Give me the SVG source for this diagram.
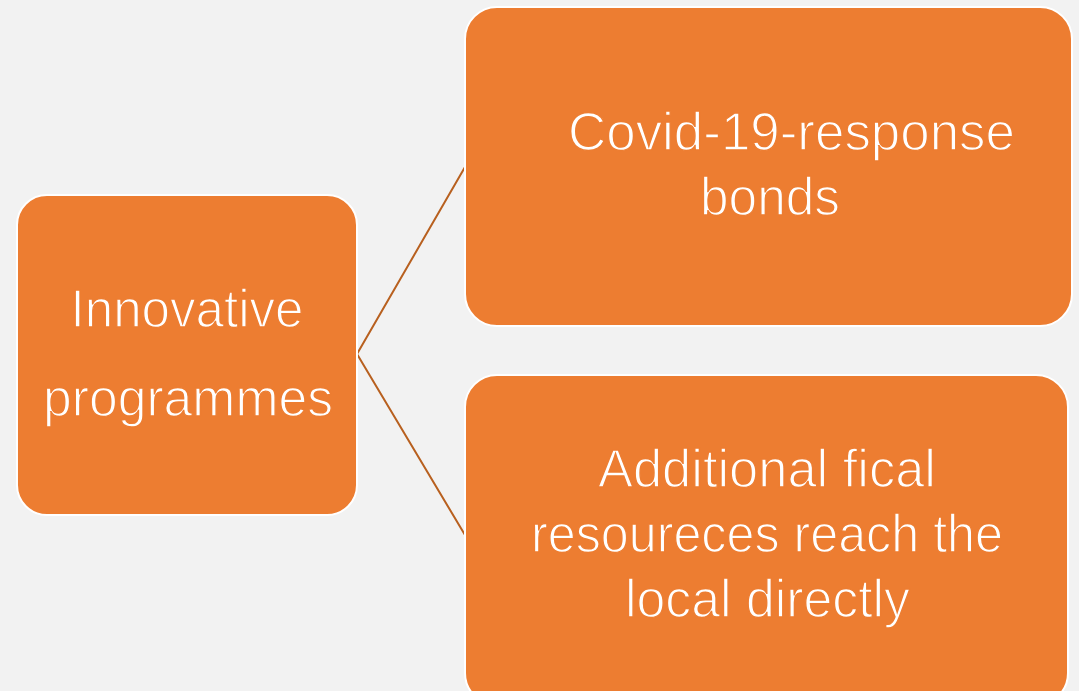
<svg xmlns="http://www.w3.org/2000/svg" width="1079" height="691" viewBox="0 0 1079 691">
<style>
.box{fill:#ED7D31;stroke:#FFFFFF;stroke-width:2}
.lbl{font-family:"Liberation Sans",Arial,sans-serif;font-size:53px;fill:#FFFFFF;text-anchor:middle;stroke:#ED7D31;stroke-width:1.4;paint-order:fill stroke}
.conn{fill:none;stroke:#B8601F;stroke-width:2}
</style>
<rect x="0" y="0" width="1079" height="691" fill="#F2F2F2"/>
<g id="connectors">
<path class="conn" d="M465,167 L357,354 L465,535"/>
</g>
<g id="node-innovative">
<rect class="box" x="17" y="195" width="340" height="320" rx="30" ry="30"/>
<text class="lbl" x="187" y="327" textLength="233" lengthAdjust="spacingAndGlyphs">Innovative</text>
<text class="lbl" x="188" y="416" textLength="290" lengthAdjust="spacingAndGlyphs">programmes</text>
</g>
<g id="node-covid">
<rect class="box" x="465" y="7" width="607" height="319" rx="32" ry="32"/>
<text class="lbl" x="791.5" y="150" textLength="447" lengthAdjust="spacingAndGlyphs">Covid-19-response</text>
<text class="lbl" x="770" y="215" textLength="140" lengthAdjust="spacingAndGlyphs">bonds</text>
</g>
<g id="node-fiscal">
<rect class="box" x="465" y="375" width="603" height="330" rx="32" ry="32"/>
<text class="lbl" x="767" y="487" textLength="338" lengthAdjust="spacingAndGlyphs">Additional fical</text>
<text class="lbl" x="767" y="552" textLength="472" lengthAdjust="spacingAndGlyphs">resoureces reach the</text>
<text class="lbl" x="767.5" y="617" textLength="285" lengthAdjust="spacingAndGlyphs">local directly</text>
</g>
</svg>
